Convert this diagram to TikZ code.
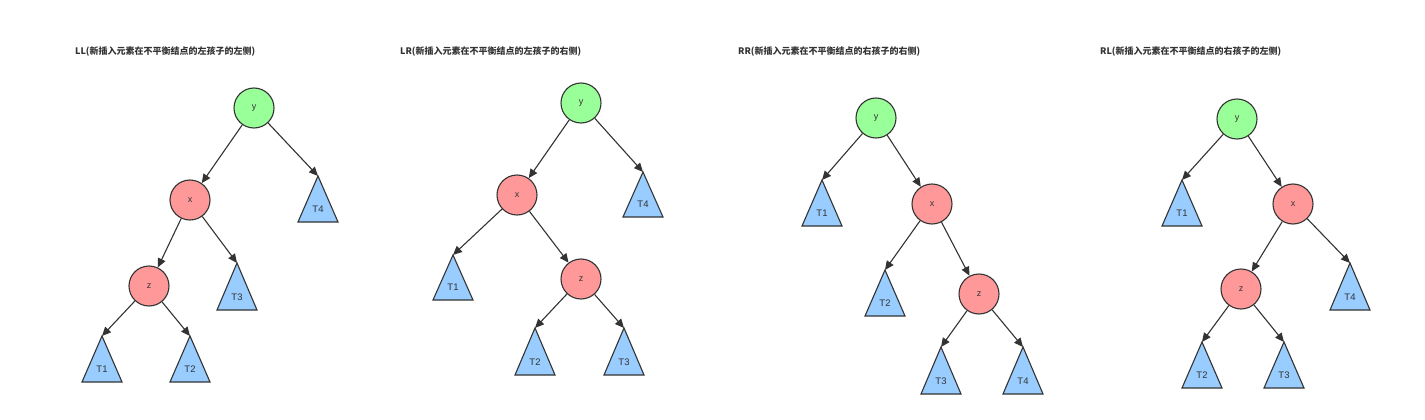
\documentclass[tikz,border=0pt]{standalone}
\usepackage{fontspec}
\setmainfont{Liberation Sans}
\newfontfamily\cjk{Noto Sans CJK SC}
\usetikzlibrary{arrows.meta}
\definecolor{lc}{HTML}{333333}
\definecolor{gn}{HTML}{99FF99}
\definecolor{rd}{HTML}{FF9999}
\definecolor{bl}{HTML}{99CCFF}
\tikzset{
 cnode/.style={circle,draw=lc,line width=1.1pt,minimum size=40pt,inner sep=0pt,font=\fontsize{9}{10}\selectfont,text=lc},
 gnode/.style={cnode,fill=gn},
 rnode/.style={cnode,fill=rd},
 tri/.style={draw=lc,fill=bl,line width=1.1pt,line join=miter},
 tlab/.style={font=\fontsize{9.5}{10}\selectfont,text=lc,inner sep=0pt},
 edge/.style={draw=lc,line width=1.1pt,-{Triangle[length=9pt,width=8pt]}},
 title/.style={anchor=west,font=\cjk\bfseries\fontsize{9}{10}\selectfont,text=lc,inner sep=0pt}
}
\newcommand{\mytri}[5]{% name, x, apex y, base y, label
 \draw[tri] (#2,#3) -- (#2+20,#4) -- (#2-20,#4) -- cycle;
 \coordinate (#1) at (#2,#3);
 \node[tlab] (#1l) at (#2,#4-13) {#5};}
\begin{document}
\begin{tikzpicture}[x=1pt,y=-1pt]
\useasboundingbox (0,0) rectangle (1425,420);
% tree 1
\node[title] (t1) at (75,52) {LL(新插入元素在不平衡结点的左孩子的左侧)};
\node[gnode] (ay) at (254,108) {y};
\node[rnode] (ax) at (190,200) {x};
\node[rnode] (az) at (149,286) {z};
\mytri{aT4}{318}{176}{222}{T4}
\mytri{aT3}{237}{263}{310}{T3}
\mytri{aT1}{102}{336}{382}{T1}
\mytri{aT2}{190}{336}{382}{T2}
\draw[edge] (ay) -- (ax); \draw[edge] (ay) -- (aT4);
\draw[edge] (ax) -- (az); \draw[edge] (ax) -- (aT3);
\draw[edge] (az) -- (aT1); \draw[edge] (az) -- (aT2);
% tree 2
\node[title] (t2) at (400,52) {LR(新插入元素在不平衡结点的左孩子的右侧)};
\node[gnode] (by) at (581,103) {y};
\node[rnode] (bx) at (517,195) {x};
\node[rnode] (bz) at (581,279) {z};
\mytri{bT4}{643}{172}{217}{T4}
\mytri{bT1}{453}{255}{300}{T1}
\mytri{bT2}{535}{328}{375}{T2}
\mytri{bT3}{624}{328}{375}{T3}
\draw[edge] (by) -- (bx); \draw[edge] (by) -- (bT4);
\draw[edge] (bx) -- (bT1); \draw[edge] (bx) -- (bz);
\draw[edge] (bz) -- (bT2); \draw[edge] (bz) -- (bT3);
% tree 3
\node[title] (t3) at (738,52) {RR(新插入元素在不平衡结点的右孩子的右侧)};
\node[gnode] (cy) at (876,118) {y};
\node[rnode] (cx) at (932,204) {x};
\node[rnode] (cz) at (979,294) {z};
\mytri{cT1}{822}{180}{226}{T1}
\mytri{cT2}{885}{270}{316}{T2}
\mytri{cT3}{941}{347}{394}{T3}
\mytri{cT4}{1023}{347}{394}{T4}
\draw[edge] (cy) -- (cT1); \draw[edge] (cy) -- (cx);
\draw[edge] (cx) -- (cT2); \draw[edge] (cx) -- (cz);
\draw[edge] (cz) -- (cT3); \draw[edge] (cz) -- (cT4);
% tree 4
\node[title] (t4) at (1100,52) {RL(新插入元素在不平衡结点的右孩子的左侧)};
\node[gnode] (dy) at (1237,119) {y};
\node[rnode] (dx) at (1293,204) {x};
\node[rnode] (dz) at (1241,289) {z};
\mytri{dT1}{1182}{180}{226}{T1}
\mytri{dT4}{1350}{263}{310}{T4}
\mytri{dT2}{1202}{342}{388}{T2}
\mytri{dT3}{1284}{342}{388}{T3}
\draw[edge] (dy) -- (dT1); \draw[edge] (dy) -- (dx);
\draw[edge] (dx) -- (dz); \draw[edge] (dx) -- (dT4);
\draw[edge] (dz) -- (dT2); \draw[edge] (dz) -- (dT3);
\end{tikzpicture}
\end{document}
